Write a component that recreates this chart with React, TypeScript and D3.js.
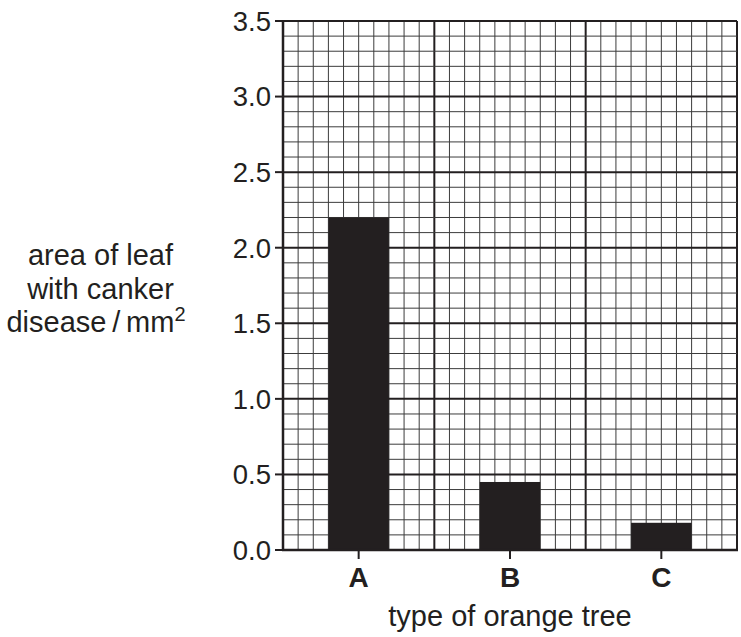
import React from "react";
import * as d3 from "d3";

const categories = ["A", "B", "C"];
const values = [2.2, 0.45, 0.18];
const yTicks = [0, 0.5, 1.0, 1.5, 2.0, 2.5, 3.0, 3.5];
const yLabelLines = ["area of leaf", "with canker", "disease\u2009/\u2009mm"];
const xLabel = "type of orange tree";

const W = 741;
const H = 637;
const left = 283;
const right = 737;
const top = 21;
const bottom = 550;
const ink = "#231f20";
const font = "'Liberation Sans', Arial, Helvetica, sans-serif";

export default function App() {
  const x = d3.scaleBand<string>().domain(categories).range([left, right]).padding(0);
  const y = d3.scaleLinear().domain([0, 3.5]).range([bottom, top]);
  const nCols = 30;
  const colW = (right - left) / nCols;
  const vLines = d3.range(0, nCols + 1);
  const hLines = d3.range(0, 36);
  const barW = x.bandwidth() * 0.4;

  return (
    <svg
      width={W}
      height={H}
      style={{ position: "absolute", left: 0, top: 0, background: "#fff" }}
      fontFamily={font}
    >
      {vLines.map((i) => (
        <line
          key={"v" + i}
          x1={left + i * colW}
          x2={left + i * colW}
          y1={top}
          y2={bottom}
          stroke={i % 10 === 0 ? ink : "#3c3c3c"}
          strokeWidth={i % 10 === 0 ? 2 : 1}
        />
      ))}
      {hLines.map((i) => (
        <line
          key={"h" + i}
          x1={left}
          x2={right}
          y1={y(i * 0.1)}
          y2={y(i * 0.1)}
          stroke={i % 5 === 0 ? ink : "#3c3c3c"}
          strokeWidth={i % 5 === 0 ? 2 : 1}
        />
      ))}
      {categories.map((c, i) => (
        <rect
          key={c}
          x={x(c)! + x.bandwidth() / 2 - barW / 2}
          y={y(values[i])}
          width={barW}
          height={y(0) - y(values[i])}
          fill={ink}
        />
      ))}
      <line x1={left} x2={left} y1={top - 1} y2={bottom + 1} stroke={ink} strokeWidth={2.5} />
      <line x1={left - 1} x2={right + 1} y1={bottom} y2={bottom} stroke={ink} strokeWidth={2.5} />
      {yTicks.map((t) => (
        <g key={"yt" + t}>
          <line x1={left - 8} x2={left} y1={y(t)} y2={y(t)} stroke={ink} strokeWidth={2} />
          <text
            x={left - 12}
            y={y(t)}
            dy="0.36em"
            textAnchor="end"
            fontSize={27.5}
            fill={ink}
          >
            {t.toFixed(1)}
          </text>
        </g>
      ))}
      {categories.map((c) => (
        <g key={"xt" + c}>
          <line
            x1={x(c)! + x.bandwidth() / 2}
            x2={x(c)! + x.bandwidth() / 2}
            y1={bottom}
            y2={bottom + 9}
            stroke={ink}
            strokeWidth={2}
          />
          <text
            x={x(c)! + x.bandwidth() / 2}
            y={587}
            textAnchor="middle"
            fontSize={28}
            fontWeight="bold"
            fill={ink}
          >
            {c}
          </text>
        </g>
      ))}
      <text x={x("B")! + x.bandwidth() / 2} y={626} textAnchor="middle" fontSize={29} fill={ink}>
        {xLabel}
      </text>
      {yLabelLines.map((l, i) => (
        <text key={l} x={i === 2 ? 96 : 100.5} y={265 + i * 33.5} textAnchor="middle" fontSize={29} fill={ink}>
          {l}
          {i === 2 ? (
            <tspan dy="-11" fontSize={20}>
              2
            </tspan>
          ) : null}
        </text>
      ))}
    </svg>
  );
}
